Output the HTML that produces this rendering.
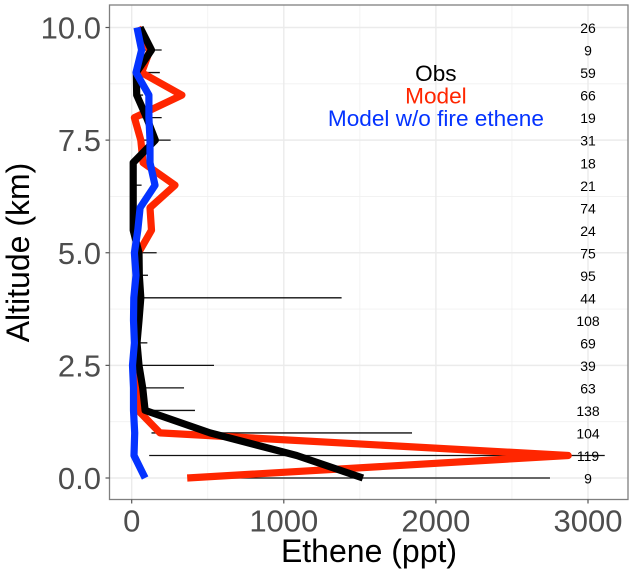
<!DOCTYPE html>
<html>
<head>
<meta charset="utf-8">
<title>Ethene profile</title>
<style>
html,body{margin:0;padding:0;background:#fff;width:635px;height:574px;overflow:hidden}
svg{display:block;font-family:"Liberation Sans",Arial,sans-serif}
</style>
</head>
<body>
<svg id="chart" xmlns="http://www.w3.org/2000/svg" width="635" height="574" viewBox="0 0 635 574"></svg>
<script>
const altitudes = [0,0.5,1,1.5,2,2.5,3,3.5,4,4.5,5,5.5,6,6.5,7,7.5,8,8.5,9,9.5,10];
const obs = [1520,1085,515,88,72,48,35,48,60,50,48,10,10,10,10,155,98,33,30,130,55];
const model = [365,2870,186,42,28,28,20,20,20,30,45,130,120,285,75,60,18,330,65,120,40];
const modelNoFire = [88,15,20,12,12,5,18,12,14,28,18,40,55,153,120,120,113,113,28,65,35];
const whiskerLow = [400,115,130,88,33,20,20,20,40,30,30,10,10,10,10,80,50,20,20,80,55];
const whiskerHigh = [2750,3110,1843,416,344,541,103,65,1380,107,164,20,20,65,10,256,197,75,185,197,55];
const counts = [9,119,104,138,63,39,69,108,44,95,75,24,74,21,18,31,19,66,59,9,26];
const xTicks = [0,1000,2000,3000];
const xMinor = [500,1500,2500];
const yTicks = [0,2.5,5,7.5,10];
const yMinor = [1.25,3.75,6.25,8.75];

const sx = v => 131.7 + v * 0.1521;
const sy = v => 478 - v * 45.05;
const svg = document.getElementById('chart');
const NS = 'http://www.w3.org/2000/svg';
function mk(tag, attrs, text) {
  const el = document.createElementNS(NS, tag);
  for (const k in attrs) el.setAttribute(k, attrs[k]);
  if (text !== undefined) el.textContent = text;
  svg.appendChild(el);
  return el;
}
const L = 109.5, R = 628, T = 5, B = 499.5;
let el;

xMinor.forEach(v => {
  el = mk('line', {x1: sx(v), x2: sx(v), y1: T, y2: B, stroke: '#f0f0f0', 'stroke-width': 0.8});
  
  
});
yMinor.forEach(v => {
  el = mk('line', {x1: L, x2: R, y1: sy(v), y2: sy(v), stroke: '#f0f0f0', 'stroke-width': 0.8});
  
  
});
xTicks.forEach(v => {
  el = mk('line', {x1: sx(v), x2: sx(v), y1: T, y2: B, stroke: '#ebebeb', 'stroke-width': 1.4});
  
  
});
yTicks.forEach(v => {
  el = mk('line', {x1: L, x2: R, y1: sy(v), y2: sy(v), stroke: '#ebebeb', 'stroke-width': 1.4});
  
  
});

altitudes.forEach((a, i) => {
  el = mk('line', {x1: sx(whiskerLow[i]), x2: sx(whiskerHigh[i]), y1: sy(a), y2: sy(a), stroke: '#111', 'stroke-width': 1.3});
  
  
});

function series(values, color, name) {
  const pts = values.map((v, i) => sx(v).toFixed(1) + ',' + sy(altitudes[i]).toFixed(1)).join(' ');
  const line = mk('polyline', {points: pts, fill: 'none', stroke: color, 'stroke-width': 7.2, 'stroke-linejoin': 'round', 'stroke-linecap': 'butt'});
  
  
}
series(model, '#ff2600', 'model-line');
series(obs, '#000000', 'obs-line');
series(modelNoFire, '#0433ff', 'model-no-fire-line');

altitudes.forEach((a, i) => {
  el = mk('text', {x: sx(3000), y: sy(a) + 5.6, 'text-anchor': 'middle', 'font-size': 14, fill: '#000'}, String(counts[i]));
  
  
});

el = mk('text', {x: sx(2000), y: sy(9) + 8.3, 'text-anchor': 'middle', 'font-size': 22.6, fill: '#000'}, 'Obs');


el = mk('text', {x: sx(2000), y: sy(8.5) + 8.3, 'text-anchor': 'middle', 'font-size': 22.6, fill: '#ff2600'}, 'Model');


el = mk('text', {x: sx(2000), y: sy(8) + 8.3, 'text-anchor': 'middle', 'font-size': 22.6, fill: '#0433ff'}, 'Model w/o fire ethene');



el = mk('rect', {x: L, y: T, width: R - L, height: B - T, fill: 'none', stroke: '#7f7f7f', 'stroke-width': 1.3});



xTicks.forEach(v => {
  el = mk('line', {x1: sx(v), x2: sx(v), y1: B, y2: B + 4, stroke: '#555', 'stroke-width': 1.2});
  
  
  el = mk('text', {x: sx(v), y: 531.5, 'text-anchor': 'middle', 'font-size': 31, fill: '#4d4d4d'}, String(v));
  
  
});
yTicks.forEach(v => {
  el = mk('line', {x1: L - 4, x2: L, y1: sy(v), y2: sy(v), stroke: '#555', 'stroke-width': 1.2});
  
  
  el = mk('text', {x: 101, y: sy(v) + 11, 'text-anchor': 'end', 'font-size': 31, fill: '#4d4d4d'}, v.toFixed(1));
  
  
});

el = mk('text', {x: 369, y: 562, 'text-anchor': 'middle', 'font-size': 32, fill: '#000'}, 'Ethene (ppt)');


el = mk('text', {x: 0, y: 0, transform: 'translate(29,252.5) rotate(-90)', 'text-anchor': 'middle', 'font-size': 32, fill: '#000'}, 'Altitude (km)');


</script>
</body>
</html>
